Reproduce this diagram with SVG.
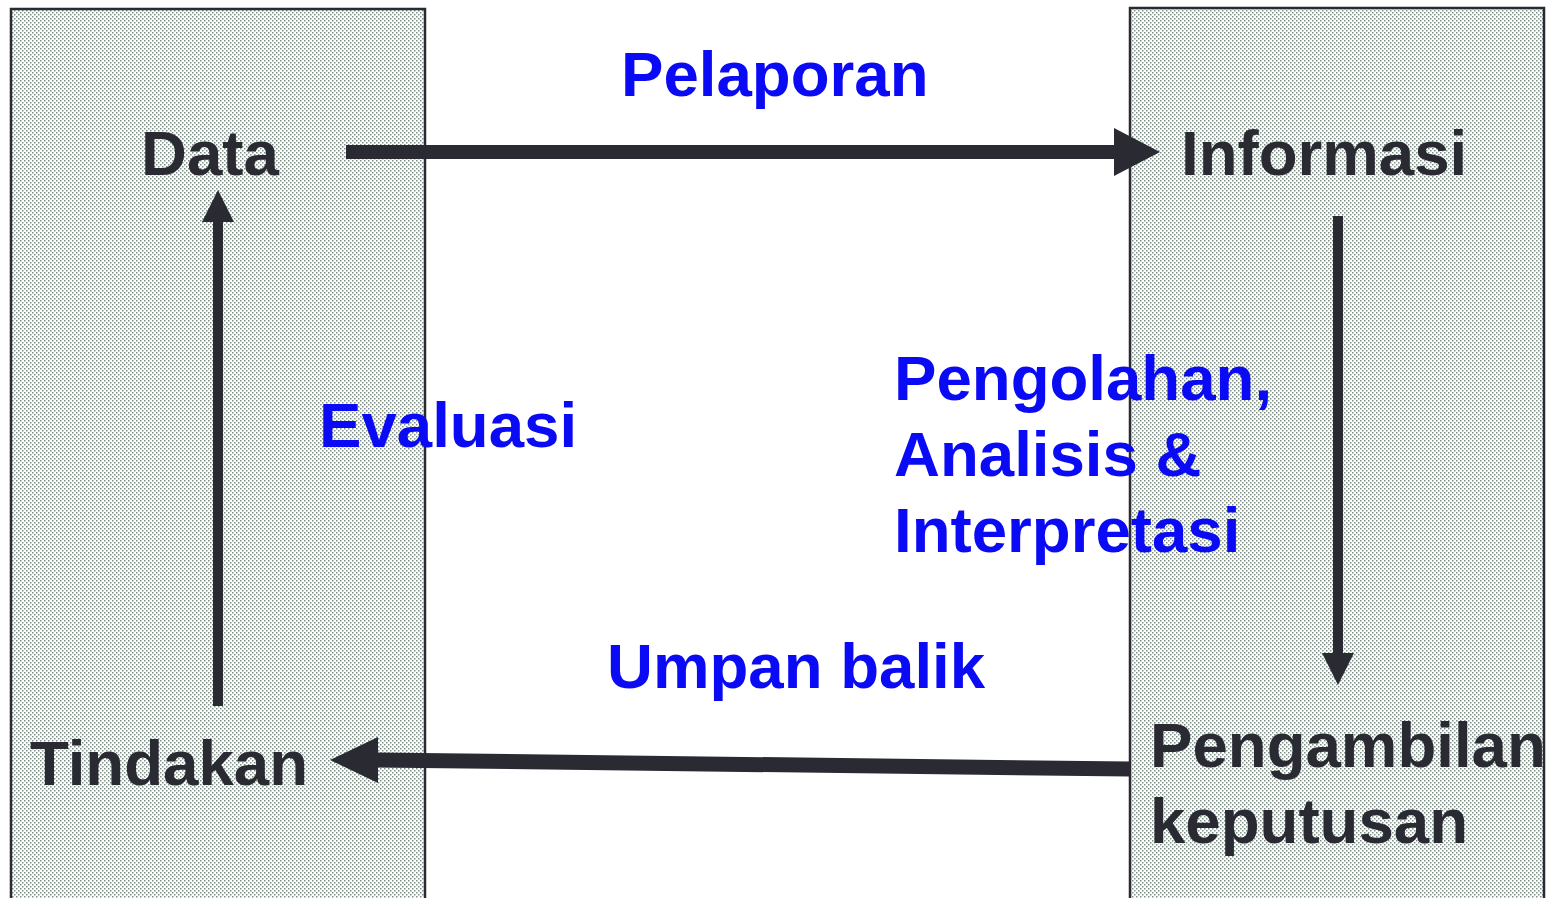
<svg xmlns="http://www.w3.org/2000/svg" width="1551" height="898" viewBox="0 0 1551 898">
<style>
.box{fill:url(#dots);stroke:#2a2a33;stroke-width:2.5}
.dk{font-family:"Liberation Sans",Arial,sans-serif;font-weight:bold;font-size:63.6px;fill:#2a2a33}
.bl{font-family:"Liberation Sans",Arial,sans-serif;font-weight:bold;font-size:63.6px;fill:#0a0af5}
.ln{stroke:#2a2a33;fill:none}
.hd{fill:#2a2a33}
</style>
<defs>
<pattern id="dots" x="0" y="0" width="4" height="4" patternUnits="userSpaceOnUse">
<rect width="4" height="4" fill="#ffffff"/>
<rect x="0" y="0" width="1.5" height="1.5" fill="#7d8f86"/>
<rect x="2" y="2" width="1.5" height="1.5" fill="#7d8f86"/>
</pattern>
</defs>
<rect width="1551" height="898" fill="#ffffff"/>
<g id="left-panel"><rect class="box" x="11" y="9" width="414" height="900"/></g>
<g id="right-panel"><rect class="box" x="1130" y="8" width="414" height="900"/></g>
<g id="connectors">
<line class="ln" x1="346" y1="152" x2="1116" y2="152" stroke-width="14"/>
<polygon class="hd" points="1114,128 1160,152 1114,176"/>
<line class="ln" x1="1338" y1="216" x2="1338" y2="656" stroke-width="10"/>
<polygon class="hd" points="1322,653 1354,653 1338,685"/>
<line class="ln" x1="1130" y1="769" x2="376" y2="760" stroke-width="15"/>
<polygon class="hd" points="378,737 330,760 378,783"/>
<line class="ln" x1="218" y1="706" x2="218" y2="220" stroke-width="10"/>
<polygon class="hd" points="202,222 234,222 218,190"/>
</g>
<g id="node-data"><text class="dk" x="141" y="175">Data</text></g>
<g id="node-informasi"><text class="dk" x="1181" y="175">Informasi</text></g>
<g id="node-pengambilan"><text class="dk" x="1150" y="767">Pengambilan</text><text class="dk" x="1150" y="843">keputusan</text></g>
<g id="node-tindakan"><text class="dk" x="30" y="785">Tindakan</text></g>
<g id="label-pelaporan"><text class="bl" x="621" y="96">Pelaporan</text></g>
<g id="label-pengolahan"><text class="bl" x="894" y="400">Pengolahan,</text><text class="bl" x="894" y="476">Analisis &amp;</text><text class="bl" x="894" y="552">Interpretasi</text></g>
<g id="label-umpan"><text class="bl" x="607" y="688">Umpan balik</text></g>
<g id="label-evaluasi"><text class="bl" x="319" y="447">Evaluasi</text></g>
</svg>
